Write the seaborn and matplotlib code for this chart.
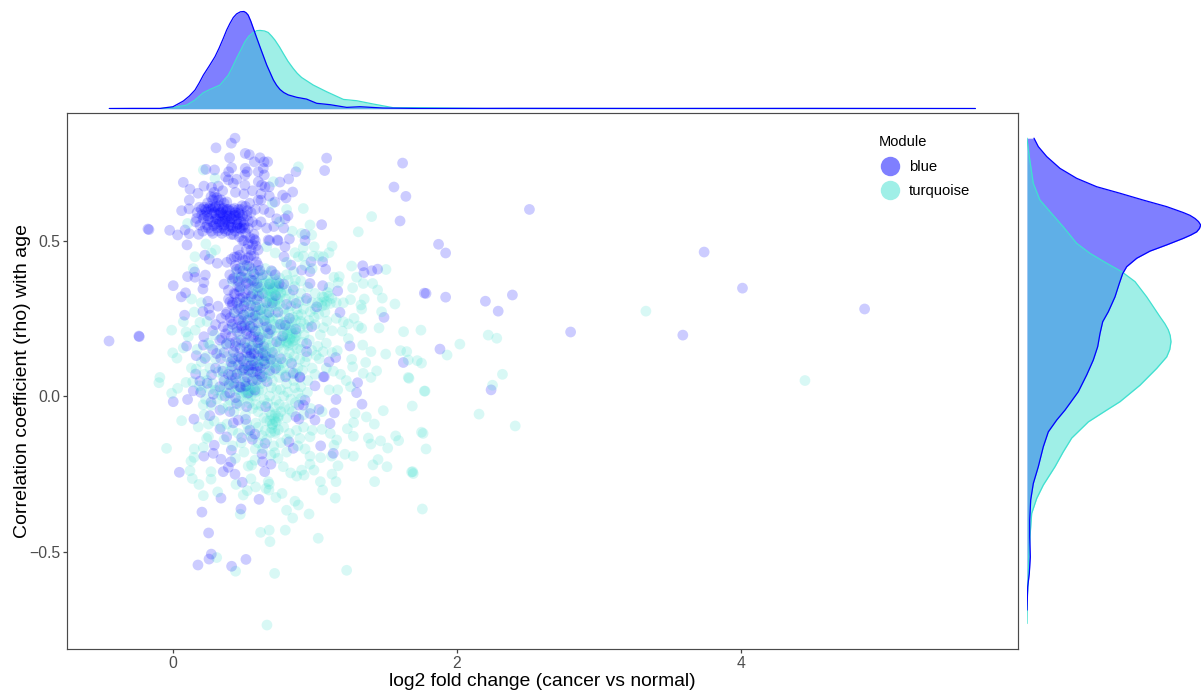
"""
age correlation vs fold change per module, with marginal densities
"""
import matplotlib.pyplot as plt
from matplotlib.lines import Line2D
import seaborn as sns
import pandas as pd

# points, (log2 fold change, rho), by region
blue_top = [(.437,.829),(.411,.813),(.303,.798),(.399,.766),(.509,.78),(.538,.776),(.613,.766),(.641,.753),(.667,.753),(.573,.753),
    (.232,.729),(.293,.727),(.413,.734),(.392,.721),(.509,.732),(.523,.721),(.507,.711),(.601,.721),(.636,.732),(.643,.711),
    (.371,.705),(.448,.697),(.425,.684),(.39,.695),(.507,.678),(.601,.689),(.624,.678),(.648,.673),(.678,.673),(.073,.687),
    (.12,.665),(.218,.675),(.272,.671),(.319,.675),(.753,.688),(.815,.698),(.866,.721),(1.082,.765),(1.068,.725),(1.617,.749),
    (1.556,.672),(1.64,.642),(1.599,.563),(.843,.656),(.772,.646),(.796,.637),(.718,.624),(.678,.643),(.176,.652),(.115,.63),
    (.061,.596),(.113,.602),(-.169,.535),(-.023,.533),(.033,.518),(.085,.534),(.115,.522),(.099,.486),(1.047,.551),(.29,.655),
    (.35,.66),(.44,.655),(.5,.65),(.56,.66),(.62,.65)]
blue_cluster = [(.2,.6),(.22,.58),(.24,.55),(.26,.61),(.28,.63),(.3,.57),(.32,.6),(.34,.54),(.36,.62),(.38,.58),
    (.4,.56),(.42,.6),(.44,.53),(.46,.57),(.48,.6),(.5,.55),(.52,.58),(.54,.62),(.56,.56),(.58,.6),
    (.19,.55),(.21,.53),(.23,.6),(.25,.57),(.27,.53),(.29,.59),(.31,.54),(.33,.58),(.35,.56),(.37,.53),
    (.39,.6),(.41,.55),(.43,.58),(.45,.55),(.47,.54),(.49,.58),(.51,.61),(.53,.54),(.55,.59),(.57,.52),
    (.17,.59),(.16,.56),(.18,.52),(.24,.58),(.27,.6),(.3,.61),(.33,.56),(.36,.55),(.38,.6),(.4,.58),
    (.42,.57),(.44,.59),(.46,.6),(.48,.56),(.34,.59),(.31,.57),(.28,.56),(.25,.54),(.37,.57),(.35,.6),
    (.41,.52),(.32,.63),(.29,.64),(.6,.63),(.64,.6),(.62,.56),(.66,.54),(.59,.55),(.5,.5),(.58,.5),
    (.49,.5),(.53,.49),(.57,.505),(.46,.47),(.55,.47),(.6,.47),(.68,.5),(.74,.5),(.71,.545),(.73,.57),
    (.78,.54),(.81,.58),(.79,.57),(.68,.59),(.62,.63),(.93,.52),(.93,.5),(.82,.505)]
blue_cluster2 = [(.213,.571),(.238,.592),(.262,.563),(.287,.548),(.305,.583),(.326,.612),(.347,.571),(.362,.538),(.384,.567),(.403,.594),
    (.421,.541),(.447,.567),(.463,.589),(.478,.537),(.496,.568),(.319,.531),(.344,.523),(.276,.586),(.229,.543),(.251,.602),
    (.296,.606),(.331,.589),(.356,.604),(.373,.592),(.392,.548),(.412,.571),(.433,.604),(.452,.541),(.471,.583),(.487,.612),
    (.203,.583),(.219,.607),(.244,.621),(.268,.641),(.309,.638),(.338,.631),(.379,.624),(.301,.553),(.281,.523),(.353,.583),
    (.391,.533),(.427,.519),(.468,.512),(.512,.523),(.543,.509),(.561,.487),(.517,.472),(.586,.483),(.505,.539),(.524,.596),
    (.167,.571),(.186,.607),(.283,.607),(.325,.552),(.369,.563),(.408,.543),(.441,.581),(.458,.553),(.489,.541),(.531,.563)]
blue_mid = [(.256,.44),(.225,.453),(.312,.427),(.103,.384),(.153,.399),(.155,.382),(.228,.389),(.218,.365),(.002,.355),(.089,.332),
    (.059,.319),(.211,.344),(.246,.305),(.317,.289),(.211,.272),(.254,.282),(.082,.26),(-.237,.191),(.218,.191),(.279,.21),
    (.096,.161),(.214,.164),(.164,.13),(.225,.121),(.307,.137),(.336,.121),(.408,.11),(.401,.303),(.472,.314),(.906,.405),
    (.965,.4),(1.336,.419),(1.345,.397),(1.4,.403),(1.441,.408),(1.782,.33),(1.486,.253),(1.622,.108),(1.246,.161),(1.146,.124),
    (1.099,.11),(1.176,.269),(1.16,.338),(1.054,.355),(1.075,.408),(1.054,.432),(.972,.432),(.831,.421),(.789,.48),(.735,.502),
    (.671,.502),(.782,.448),(.941,.314),(.847,.341),(.8,.295),(.866,.298),(1.012,.287),(.965,.362),(.977,.223),(.864,.215),
    (.791,.228),(.772,.193),(.73,.175),(.66,.223),(.671,.201),(.507,.228),(.484,.218),(.941,.143),(.941,.169),(.836,.105),
    (.638,.113),(.723,.089),(.542,.126),(.894,.062),(1.059,.062),(.45,.448),(.57,.45),(.49,.44),(.53,.445),(.41,.44),
    (.38,.43),(.44,.42),(.47,.41),(.52,.42),(.56,.4),(.6,.42),(.63,.39),(.4,.39),(.43,.38),(.46,.37),
    (.5,.38),(.53,.36),(.57,.37),(.6,.35),(.36,.36),(.39,.34),(.43,.33),(.47,.35),(.51,.33),(.55,.32),
    (.59,.31),(.63,.33),(.42,.3),(.46,.28),(.5,.29),(.54,.27),(.58,.26),(.38,.27),(.34,.25),(.41,.24),
    (.45,.22),(.48,.25),(.52,.2),(.56,.22),(.6,.19),(.37,.2),(.33,.18),(.4,.17),(.44,.16),(.48,.18),
    (.52,.14),(.56,.16),(.6,.13),(.64,.16),(.28,.15),(.36,.14),(.42,.12),(.46,.1),(.5,.09),(.55,.1),
    (.59,.08),(.3,.09),(.35,.08),(.39,.07),(.26,.26),(.3,.23),(.7,.3),(.74,.27),(.68,.36),(.72,.39),
    (.78,.36),(.82,.25),(.7,.14),(.76,.12)]
blue_column = [(.432,.447),(.471,.453),(.507,.437),(.549,.452),(.588,.431),(.447,.408),(.492,.402),(.536,.417),(.571,.392),(.612,.404),
    (.419,.376),(.456,.352),(.481,.383),(.517,.364),(.553,.373),(.593,.362),(.437,.327),(.468,.338),(.493,.317),(.531,.342),
    (.562,.329),(.604,.322),(.391,.312),(.417,.293),(.449,.301),(.478,.282),(.512,.303),(.548,.291),(.583,.287),(.617,.277),
    (.372,.263),(.403,.252),(.431,.268),(.461,.246),(.497,.261),(.527,.244),(.563,.253),(.598,.236),(.354,.223),(.387,.214),
    (.419,.231),(.452,.207),(.483,.226),(.516,.211),(.548,.193),(.581,.208),(.612,.181),(.343,.186),(.376,.167),(.412,.192),
    (.441,.174),(.473,.153),(.507,.171),(.537,.149),(.572,.137),(.603,.152),(.518,.154),(.651,.129),(.689,.118),(.426,.142),
    (.463,.127),(.496,.113),(.529,.096),(.563,.113),(.597,.096),(.632,.138),(.479,.121),(.616,.091),(.647,.103),(.681,.082),
    (.418,.096),(.452,.072),(.489,.083),(.523,.061),(.561,.077),(.626,.062),(.663,.047),(.397,.037),(.441,.058),(.477,.028),
    (.512,.032),(.571,.098),(.592,.052),(.551,.137),(.543,.224),(.568,.191),(.598,.172),(.533,.083),(.659,.301),(.676,.269),
    (.644,.243),(.687,.214),(.723,.323),(.748,.362),(.693,.403),(.757,.231)]
blue_low = [(.16,.071),(.242,.041),(.19,.048),(.272,.068),(.413,.068),(.507,.046),(.43,.041),(.613,.071),(.577,.019),(.793,.062),
    (.847,.073),(.894,.06),(1.066,.062),(1.0,.033),(1.3,.043),(1.293,.011),(1.331,-.026),(.143,.017),(.002,-.018),(.103,-.011),
    (.195,.012),(.284,.006),(.268,-.02),(.366,0),(.448,-.024),(.519,-.034),(.653,-.034),(.887,-.029),(.93,-.013),(.918,-.029),
    (1.148,-.011),(1.028,-.043),(1.136,-.054),(.965,-.056),(1.0,-.077),(.887,-.074),(.866,-.066),(1.106,-.088),(.148,-.074),(.331,-.106),
    (.26,-.063),(.331,-.045),(.401,-.05),(.46,-.077),(.512,-.075),(.425,-.086),(.542,-.109),(.577,-.122),(.378,-.131),(.484,-.134),
    (.559,-.139),(.648,-.152),(.817,-.147),(.847,-.168),(1.04,-.16),(1.129,-.184),(.291,-.158),(.411,-.174),(.284,-.184),(.218,-.193),
    (.338,-.203),(.627,-.186),(.408,-.211),(.39,-.229),(.631,-.211),(.69,-.219),(.646,-.243),(.354,-.243),(.437,-.251),(.045,-.245),
    (.488,-.277),(.338,-.328),(.606,-.332),(.479,-.363),(.204,-.373),(.251,-.44),(.27,-.508),(.254,-.524),(.176,-.543),(.413,-.547),
    (.514,-.525),(.47,.03),(.53,.01),(.56,.05),(.4,.01),(.44,-.005),(.33,.03),(.36,.05)]
blue_far = [(-.45,.177),(-.24,.193),(-.176,.537),(2.51,.6),(3.74,.463),(4.01,.347),(4.87,.28),(3.59,.196),(2.8,.206),(2.39,.325),
    (2.2,.305),(2.29,.273),(2.24,.02),(1.87,.488),(1.92,.46),(1.92,.318),(1.77,.331),(1.88,.151)]

turq_high = [(.214,.727),(.883,.737),(.707,.689),(.918,.603),(1.399,.577),(1.305,.528),(.965,.55),(.906,.523),(.977,.518),(.918,.478),
    (.995,.48),(1.12,.482),(1.099,.461),(1.059,.448),(1.028,.45),(.988,.45),(.918,.45),(.859,.461),(.883,.448),(1.258,.418),
    (1.5,.407),(.232,.489),(.103,.555),(.296,.7),(.155,.448),(.143,.41),(.8,.6),(.84,.53),(.7,.62),(.75,.56),
    (.3,.47),(.66,.48),(.72,.46),(.8,.43),(.93,.42),(.98,.41),(.27,.46)]
turq_core = [(.45,.4),(.5,.42),(.55,.41),(.6,.38),(.65,.41),(.7,.4),(.75,.38),(.8,.39),(.85,.4),(.9,.37),
    (.42,.37),(.48,.35),(.53,.38),(.58,.35),(.63,.36),(.68,.34),(.6,.34),(.64,.33),(.67,.35),(.7,.32),
    (.72,.35),(.76,.33),(.8,.34),(.85,.31),(.9,.33),(.95,.35),(1.0,.33),(1.05,.32),(1.1,.35),(1.02,.3),
    (1.0,.28),(1.05,.29),(.98,.3),(1.07,.27),(.92,.28),(.88,.26),(.83,.29),(.78,.28),(.73,.29),(.68,.3),
    (.63,.28),(.58,.29),(.52,.31),(.47,.3),(.44,.27),(.5,.26),(.55,.25),(.6,.25),(.65,.24),(.7,.25),
    (.75,.23),(.8,.24),(.85,.22),(.9,.24),(.95,.22),(1.0,.23),(1.06,.22),(1.12,.21),(1.15,.25),(.42,.22),
    (.47,.2),(.53,.18),(.58,.21),(.63,.19),(.68,.2),(.73,.22),(.76,.18),(.8,.17),(.78,.15),(.82,.14),
    (.74,.16),(.7,.17),(.86,.18),(.9,.15),(.96,.18),(1.02,.16),(1.08,.17),(1.12,.14),(.38,.17),(.33,.15),
    (.43,.14),(.48,.12),(.53,.13),(.58,.11),(.63,.12),(.68,.1),(.73,.11),(.78,.09),(.83,.11),(.88,.09),
    (.93,.11),(.98,.09),(1.03,.12),(1.08,.09),(.3,.12),(.26,.09),(.35,.09),(.4,.08),(.45,.07),(.5,.06),
    (.55,.07),(.6,.05),(.65,.06),(.7,.05),(.75,.06),(.8,.04),(.85,.05),(.9,.03),(.95,.05),(1.0,.07),
    (.24,.05),(.28,.04),(.33,.02),(.38,.01),(.43,.03),(.48,.0),(.53,.03),(.58,.0),(.63,.02),(.68,.0),
    (.73,.02),(.78,.0),(.83,-.01),(.88,.01),(.58,.03),(.62,.04),(.47,.05),(.52,.04),(.41,.05),(.36,.03),
    (.2,.02),(.23,-.01),(.27,-.03),(.31,-.01),(.35,-.04),(.39,-.03),(.43,-.05),(.47,-.03),(.51,-.06),(.56,-.04),
    (.6,-.05),(.64,-.07),(.68,-.05),(.72,-.08),(.76,-.05),(.8,-.07),(.84,-.05),(.92,-.06),(.97,-.04),(1.05,-.05),
    (.66,-.08),(.7,-.09),(.74,-.07),(.22,-.06),(.25,-.09),(.29,-.08),(.34,-.1),(.38,-.09),(.42,-.11),(.46,-.12),
    (.52,-.09),(.6,-.1),(.65,-.11),(.72,-.12),(.78,-.1),(.82,-.12),(.87,-.11),(.92,-.1),(.98,-.11),(.25,-.13)]
turq_dense = [(.472,.381),(.517,.396),(.563,.372),(.598,.402),(.627,.381),(.663,.388),(.694,.367),(.727,.374),(.561,.342),(.592,.327),
    (.618,.351),(.647,.362),(.673,.319),(.703,.343),(.737,.312),(.768,.351),(.793,.312),(.823,.327),(.857,.352),(.887,.303),
    (.538,.302),(.571,.312),(.604,.293),(.641,.306),(.662,.277),(.693,.287),(.721,.268),(.753,.296),(.787,.262),(.817,.271),
    (.846,.253),(.872,.281),(.904,.262),(.937,.307),(.967,.271),(.994,.253),(.523,.271),(.562,.264),(.597,.274),(.626,.254),
    (.659,.262),(.683,.243),(.712,.231),(.741,.249),(.774,.218),(.803,.206),(.834,.237),(.868,.204),(.893,.218),(.923,.197),
    (.957,.243),(1.027,.263),(1.038,.197),(1.084,.241),(.492,.241),(.527,.224),(.567,.231),(.603,.212),(.637,.223),(.667,.183),
    (.698,.211),(.726,.193),(.752,.171),(.784,.187),(.812,.163),(.843,.176),(.874,.152),(.913,.173),(.943,.127),(.978,.147),
    (1.009,.131),(1.057,.143),(.458,.173),(.503,.158),(.548,.161),(.589,.172),(.618,.152),(.653,.143),(.687,.137),(.717,.143),
    (.748,.127),(.773,.108),(.806,.121),(.852,.128),(.893,.118),(.437,.112),(.472,.088),(.517,.103),(.548,.087),(.607,.091),
    (.647,.086),(.683,.071),(.712,.084),(.757,.083),(.794,.067),(.828,.078),(.866,.073),(.912,.083),(.378,.127),(.407,.101),
    (.318,.078),(.352,.062),(.393,.043),(.437,.017),(.463,.021),(.512,.012),(.548,.017),(.603,.017),(.643,-.012),(.693,.027),
    (.727,-.013),(.757,.021),(.808,.013),(.857,.027),(.902,-.008),(.947,.012),(.297,.019),(.258,.022),(.343,.002),(.403,-.014),
    (.462,-.017),(.537,-.022),(.583,-.027),(.622,-.031),(.667,-.023),(.713,-.036),(.748,-.027),(.786,-.036),(.817,-.042),(.862,-.021),
    (.607,.263),(.642,.283),(.676,.252),(.648,.212),(.618,.187),(.584,.152),(.716,.297),(.752,.318),(.783,.236),(.826,.189),
    (.552,.122),(.678,.153),(.743,.097),(.633,.066),(.577,.062),(.502,.083),(.862,.244),(.923,.232),(.812,.372),(.862,.373)]
turq_patches = [(.683,.362),(.704,.347),(.722,.358),(.691,.336),(.713,.327),(.738,.341),(.667,.343),(.652,.331),(.731,.368),(.758,.334),
    (.672,.371),(.699,.318),(.744,.352),(.718,.305),(.682,.309),(1.063,.318),(1.082,.304),(1.097,.321),(1.071,.293),(1.108,.298),
    (1.049,.302),(1.089,.333),(1.118,.314),(.806,.198),(.824,.183),(.841,.201),(.813,.172),(.832,.211),(.853,.187),(.797,.176),
    (.818,.221),(.846,.162),(.867,.193),(.782,.204),(.693,-.061),(.712,-.072),(.728,-.083),(.701,-.091),(.683,-.079),(.721,-.058),
    (.742,-.064),(.697,-.104),(.716,-.113),(.522,.007),(.537,.018),(.508,.021),(.551,.002),(.563,.026),(.528,-.008),(.492,.012),
    (.547,.034),(.581,.013),(.617,.127),(.642,.108),(.663,.126),(.628,.157),(.601,.112),(.659,.167),(.686,.116),(.707,.107)]
turq_right = [(1.134,.382),(1.171,.384),(1.164,.365),(1.293,.382),(1.34,.362),(1.406,.362),(1.265,.348),(1.441,.341),(1.474,.315),(1.347,.312),
    (1.324,.293),(1.563,.296),(1.469,.271),(1.329,.28),(1.451,.219),(1.624,.207),(1.746,.212),(1.2,.239),(1.235,.232),(1.275,.25),
    (1.305,.225),(1.329,.218),(1.192,.209),(1.235,.185),(1.336,.164),(1.394,.143),(1.498,.135),(1.603,.146),(1.646,.143),(1.72,.114),
    (1.657,.116),(1.357,.108),(1.434,.081),(1.34,.073),(1.394,.06),(1.657,.06),(1.157,.146),(1.258,.118),(1.265,.094),(1.2,.3),
    (1.25,.31),(1.15,.3),(1.18,.07),(1.22,.05),(1.16,.02),(1.25,.03),(1.1,.02),(1.13,.08)]
turq_left = [(-.009,.212),(.092,.206),(.157,.212),(.19,.237),(.073,.239),(.131,.312),(.108,.191),(-.002,.139),(.028,.122),(.073,.155),
    (-.092,.06),(-.099,.043),(-.009,.009),(.033,.025),(.092,.044),(.139,.046),(.061,-.079),(.178,-.099),(.2,.3),(.24,.24),
    (.17,.15),(.2,.11),(.13,.09),(.15,.27),(.25,.17),(.22,.07),(.163,.087),(.187,.033),(.233,.127),(.261,.163),(.293,.197),(.213,-.028)]
turq_low = [(-.045,-.168),(.15,-.17),(.214,-.165),(.237,-.136),(.127,-.209),(.148,-.197),(.12,-.24),(.136,-.265),(.183,-.284),(.268,-.243),
    (.268,-.267),(.444,-.284),(.214,-.32),(.315,-.308),(.549,-.266),(.582,-.292),(.523,-.304),(.495,-.318),(.671,-.275),(.678,-.283),
    (.655,-.297),(.676,-.302),(.725,-.326),(.768,-.313),(.777,-.227),(.53,-.225),(.554,-.222),(.577,-.206),(.829,-.247),(.871,-.257),
    (.906,-.238),(.923,-.254),(.993,-.238),(.965,-.219),(.965,-.193),(1.04,-.198),(1.117,-.193),(1.211,-.187),(1.27,-.193),(1.162,-.224),
    (1.12,-.251),(1.038,-.275),(1.148,-.275),(1.054,-.302),(1.143,-.328),(1.42,-.275),(1.408,-.221),(1.507,-.227),(1.444,-.204),(1.688,-.243),
    (1.692,-.249),(1.756,-.363),(1.512,-.167),(1.394,-.154),(1.376,-.135),(1.462,-.144),(1.568,-.128),(1.589,-.143),(1.761,-.12),(1.782,-.17),
    (1.685,-.032),(1.775,.016),(1.662,.057),(1.481,-.047),(1.418,-.09),(1.362,-.067),(1.282,-.056),(1.272,-.085),(1.228,-.105),(1.27,-.129),
    (1.153,-.141),(1.134,-.158),(1.108,-.12),(1.049,-.107),(.965,-.131),(.894,-.136),(.8,-.367),(.859,-.338),(.883,-.35),(.843,-.392),
    (.958,-.379),(.791,-.431),(.678,-.431),(.617,-.438),(.683,-.468),(1.023,-.457),(.474,-.38),(.308,-.519),(.441,-.563),(.716,-.57),
    (1.223,-.56),(.662,-.736),(.36,-.14),(.42,-.16),(.48,-.15),(.55,-.13),(.6,-.15),(.66,-.14),(.71,-.16),(.76,-.15),
    (.8,-.18),(.69,-.19),(.74,-.2),(.5,-.18),(.44,-.2),(.58,-.17),(.88,-.16),(.93,-.17),(.527,-.112),(.583,-.087),
    (.627,-.127),(.688,-.117),(.742,-.108),(.802,-.139),(.632,-.168),(.717,-.182)]
turq_far = [(3.33,.273),(4.45,.05),(2.41,-.096),(2.155,-.058),(2.25,.035),(2.32,.07),(2.22,.196),(2.28,.186),(2.02,.167),(1.93,.132),
    (1.75,.106),(1.77,.016),(1.75,-.116),(1.68,-.244)]

# marginal densities, (x, density) on top and (rho, density) at the right
blue_top_density = [(-.448,.003),(-.28,.005),(-.09,.005),(0,.033),(.073,.128),(.115,.21),(.155,.31),(.185,.43),(.214,.56),(.255,.71),
    (.296,.867),(.325,1.01),(.354,1.17),(.378,1.31),(.401,1.42),(.425,1.52),(.448,1.58),(.475,1.615),(.5,1.62),(.515,1.6),(.53,1.56),
    (.548,1.46),(.566,1.34),(.59,1.18),(.613,1.03),(.66,.73),(.707,.48),(.73,.39),(.754,.32),(.78,.27),(.812,.23),(.871,.19),
    (.941,.16),(1.012,.09),(1.106,.067),(1.223,.022),(1.317,.033),(1.48,.011),(1.74,.004),(2.4,.006),(3.4,.004),(4.5,.005),(5.65,.003)]
turq_top_density = [(-.448,.002),(-.09,.002),(0,.02),(.096,.06),(.155,.144),(.214,.267),(.26,.32),(.331,.394),(.39,.56),(.42,.7),
    (.448,.84),(.478,.98),(.507,1.117),(.535,1.21),(.566,1.27),(.59,1.3),(.613,1.305),(.645,1.295),(.671,1.27),(.695,1.21),(.718,1.144),
    (.75,1.03),(.777,.92),(.81,.79),(.847,.67),(.875,.59),(.906,.52),(.988,.394),(1.082,.283),(1.2,.155),(1.293,.133),
    (1.41,.078),(1.55,.017),(1.74,.017),(2.2,.003),(3.4,.004),(4.5,.003),(5.65,.002)]
blue_right_density = [(.829,.07),(.802,.113),(.77,.197),(.732,.33),(.7,.497),(.673,.697),(.652,.93),(.63,1.163),(.609,1.397),(.59,1.563),
    (.581,1.63),(.571,1.68),(.561,1.715),(.55,1.737),(.539,1.725),(.528,1.697),(.518,1.64),(.507,1.563),(.486,1.397),(.466,1.23),(.443,1.097),(.416,.997),(.394,.957),(.362,.923),
    (.319,.88),(.271,.813),(.239,.757),(.201,.73),(.159,.707),(.116,.663),(.068,.597),(.014,.513),(-.045,.38),(-.077,.297),
    (-.115,.213),(-.163,.163),(-.227,.113),(-.281,.063),(-.334,.037),(-.399,.027),(-.452,.027),(-.517,.033),(-.57,.023),(-.613,.007),(-.688,0)]
turq_right_density = [(.829,0),(.77,.023),(.684,.063),(.63,.13),(.593,.23),(.544,.363),(.491,.497),(.459,.63),(.427,.797),(.4,.947),
    (.368,1.08),(.319,1.197),(.255,1.33),(.232,1.38),(.213,1.413),(.195,1.432),(.175,1.44),(.15,1.428),(.126,1.397),(.089,1.297),(.035,1.13),(-.018,.93),(-.045,.797),
    (-.083,.613),(-.135,.447),(-.179,.363),(-.227,.28),(-.286,.163),(-.329,.097),(-.377,.047),(-.452,.03),(-.505,.02),(-.581,.013),(-.646,.003),(-.731,0)]

x_ticks = [0, 2, 4]
y_ticks = [-0.5, 0.0, 0.5]
y_ticklabels = ['\u22120.5', '0.0', '0.5']
module_colors = {'blue': '#0000FF', 'turquoise': '#40E0D0'}

sns.set_theme(style='white')
plt.rcParams['font.family'] = ['Liberation Sans', 'DejaVu Sans']

blue = blue_top + blue_cluster + blue_cluster2 + blue_mid + blue_column + blue_low + blue_far
turq = turq_high + turq_core + turq_dense + turq_patches + turq_right + turq_left + turq_low + turq_far
df = pd.concat([pd.DataFrame(turq, columns=['lfc', 'rho']).assign(module='turquoise'),
                pd.DataFrame(blue, columns=['lfc', 'rho']).assign(module='blue')])
# modules are interleaved in the original drawing order
df = df.sort_values('rho')

W, H = 1201., 690.
fig = plt.figure(figsize=(W/100, H/100), dpi=100)
ax = fig.add_axes([67/W, 1-649/H, 951/W, 536/H])
ax_top = fig.add_axes([67/W, 1-108.7/H, 951/W, 108.7/H], sharex=ax)
ax_right = fig.add_axes([1027/W, 1-649/H, 174/W, 536/H], sharey=ax)

sns.scatterplot(data=df, x='lfc', y='rho', hue='module', palette=module_colors,
                s=60, alpha=0.2, linewidth=0, legend=False, ax=ax)
ax.set(xlim=(-0.746, 5.95), ylim=(-0.813, 0.91), xticks=x_ticks, yticks=y_ticks)
ax.set_yticklabels(y_ticklabels)
ax.set_xlabel('log2 fold change (cancer vs normal)', fontsize=13.9, labelpad=2, color='black')
ax.set_ylabel('Correlation coefficient (rho) with age', fontsize=14, labelpad=-1, color='black')
ax.tick_params(axis='both', bottom=True, left=True, length=2.7, width=0.9, color='#444444',
               labelsize=11.3, labelcolor='#4D4D4D', pad=2)
for s in ax.spines.values():
    s.set_color('#4A4A4A')
    s.set_linewidth(0.85)

handles = [Line2D([], [], marker='o', linestyle='', color=c, alpha=0.5, markeredgewidth=0,
                  markersize=14, label=m) for m, c in module_colors.items()]
leg = ax.legend(handles=handles, title='Module', frameon=False, loc='upper left',
                bbox_to_anchor=(812/951, 1-22/536), borderaxespad=0, borderpad=0,
                fontsize=10.7, title_fontsize=10.5, labelspacing=0.65,
                handlelength=1.48, handletextpad=0.54, labelcolor='black')
leg.get_title().set_color('black')
leg._legend_box.align = 'left'
leg._legend_box.sep = 8

# top marginal, blue fill goes under turquoise
tb = pd.DataFrame(blue_top_density, columns=['x', 'd'])
tt = pd.DataFrame(turq_top_density, columns=['x', 'd'])
ax_top.fill_between(tb.x, 0, tb.d, color=module_colors['blue'], alpha=0.5, linewidth=0)
ax_top.fill_between(tt.x, 0, tt.d, color=module_colors['turquoise'], alpha=0.5, linewidth=0)
sns.lineplot(data=tt, x='x', y='d', color=module_colors['turquoise'], linewidth=0.9, sort=False, ax=ax_top)
sns.lineplot(data=tb, x='x', y='d', color=module_colors['blue'], linewidth=0.9, sort=False, ax=ax_top)
ax_top.set_ylim(0, 108.7/60)
ax_top.axis('off')

# right marginal
rb = pd.DataFrame(blue_right_density, columns=['y', 'd'])
rt = pd.DataFrame(turq_right_density, columns=['y', 'd'])
ax_right.fill_betweenx(rb.y, 0, rb.d, color=module_colors['blue'], alpha=0.5, linewidth=0)
ax_right.fill_betweenx(rt.y, 0, rt.d, color=module_colors['turquoise'], alpha=0.5, linewidth=0)
ax_right.plot(rt.d, rt.y, color=module_colors['turquoise'], linewidth=0.9)
ax_right.plot(rb.d, rb.y, color=module_colors['blue'], linewidth=0.9)
ax_right.set_xlim(0, 1.74)
ax_right.axis('off')

fig.savefig('out.png', dpi=100, facecolor='white')
